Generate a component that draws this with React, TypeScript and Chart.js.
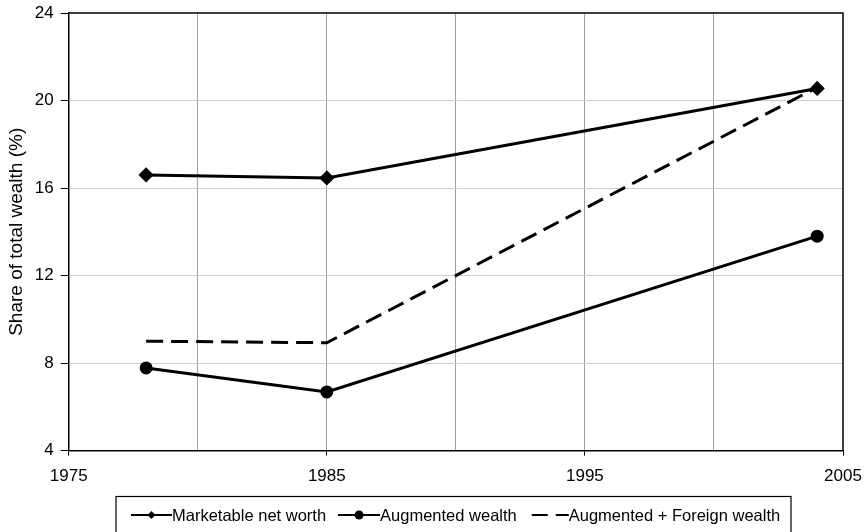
import React, { useEffect, useRef } from "react";
import { Chart, registerables } from "chart.js";

Chart.register(...registerables);

const years = [1978, 1985, 2004];
const marketable = [16.6, 16.46, 20.55];
const augmented = [7.78, 6.68, 13.8];
const augForeign = [9.0, 8.93, 20.6];
const seriesNames = ["Marketable net worth", "Augmented wealth", "Augmented + Foreign wealth"];
const yTitle = "Share of total wealth (%)";

const FONT = "'Liberation Sans', Arial, sans-serif";

const frameAndLegend = {
  id: "frameAndLegend",
  afterDraw(chart: any) {
    const { ctx, chartArea } = chart;
    const { left, right, top, bottom } = chartArea;
    ctx.save();
    ctx.strokeStyle = "#000";
    ctx.lineWidth = 1.5;
    ctx.beginPath();
    ctx.moveTo(left, top);
    ctx.lineTo(right, top);
    ctx.lineTo(right, bottom);
    ctx.stroke();

    // legend box
    ctx.lineWidth = 1.2;
    ctx.strokeRect(116, 496.5, 675, 45);
    ctx.font = `16.5px ${FONT}`;
    ctx.fillStyle = "#000";
    ctx.textBaseline = "middle";
    const cy = 515;
    let x = 131;
    const sampleLens = [41, 42, 37];
    const gaps = [12, 15, 0];
    chart.data.datasets.forEach((ds: any, i: number) => {
      const sampleLen = sampleLens[i];
      ctx.strokeStyle = "#000";
      ctx.lineWidth = 2.2;
      ctx.setLineDash(ds.borderDash ? [16, 8] : []);
      ctx.beginPath();
      ctx.moveTo(x, cy);
      ctx.lineTo(x + sampleLen, cy);
      ctx.stroke();
      ctx.setLineDash([]);
      const mx = x + sampleLen / 2;
      if (ds.pointStyle === "rectRot") {
        ctx.beginPath();
        ctx.moveTo(mx, cy - 4);
        ctx.lineTo(mx + 4, cy);
        ctx.lineTo(mx, cy + 4);
        ctx.lineTo(mx - 4, cy);
        ctx.closePath();
        ctx.fill();
      } else if (ds.pointStyle === "circle" && ds.pointRadius > 0) {
        ctx.beginPath();
        ctx.arc(mx, cy, 4.5, 0, Math.PI * 2);
        ctx.fill();
      }
      x += sampleLen;
      ctx.fillText(ds.label, x, cy + 1);
      x += ctx.measureText(ds.label).width + gaps[i];
    });
    ctx.restore();
  },
};

export default function App() {
  const ref = useRef<HTMLCanvasElement>(null);
  useEffect(() => {
    document.body.style.margin = "0";
    const canvas = ref.current!;
    const chart = new Chart(canvas, {
      type: "line",
      data: {
        datasets: [
          {
            label: seriesNames[0],
            data: years.map((y, i) => ({ x: y, y: marketable[i] })),
            borderColor: "#000",
            backgroundColor: "#000",
            borderWidth: 3,
            pointStyle: "rectRot",
            pointRadius: 5.5,
            pointHoverRadius: 5.5,
          },
          {
            label: seriesNames[1],
            data: years.map((y, i) => ({ x: y, y: augmented[i] })),
            borderColor: "#000",
            backgroundColor: "#000",
            borderWidth: 3,
            pointStyle: "circle",
            pointRadius: 5,
            pointHoverRadius: 5,
          },
          {
            label: seriesNames[2],
            data: years.map((y, i) => ({ x: y, y: augForeign[i] })),
            borderColor: "#000",
            backgroundColor: "#000",
            borderWidth: 3,
            borderDash: [17, 8],
            pointStyle: "circle",
            pointRadius: 0,
            pointHoverRadius: 0,
          },
        ],
      },
      options: {
        animation: false,
        responsive: true,
        maintainAspectRatio: false,
        layout: { autoPadding: false, padding: { left: 3, right: 21, top: 13, bottom: 34 } },
        plugins: {
          legend: { display: false },
          tooltip: { enabled: false },
        },
        scales: {
          x: {
            type: "linear",
            min: 1975,
            max: 2005,
            afterFit: (s: any) => {
              s.paddingLeft = 0;
              s.paddingRight = 0;
            },
            ticks: {
              stepSize: 5,
              color: "#000",
              font: { family: FONT, size: 17 },
              maxRotation: 0,
              autoSkip: false,
              padding: 11,
              callback: (v: any) => (Number(v) % 10 === 5 ? String(v) : ""),
            },
            grid: {
              color: (c: any) => {
                const v = c.tick?.value;
                if (v === 1975 || v === 2005) return "rgba(0,0,0,0)";
                return "#a0a0a0";
              },
              tickColor: (c: any) => (c.tick && c.tick.value % 10 === 5 ? "#000" : "rgba(0,0,0,0)"),
              tickLength: 5,
              lineWidth: 1,
            },
            border: { color: "#000", width: 1.5 },
          },
          y: {
            min: 4,
            max: 24,
            afterFit: (s: any) => {
              s.paddingTop = 0;
              s.paddingBottom = 0;
            },
            ticks: {
              stepSize: 4,
              color: "#000",
              font: { family: FONT, size: 17 },
              padding: 7,
            },
            grid: {
              color: (c: any) => {
                const v = c.tick?.value;
                if (v === 4 || v === 24) return "rgba(0,0,0,0)";
                return "#cfcfcf";
              },
              tickColor: "#000",
              tickLength: 8,
              lineWidth: 1,
            },
            border: { color: "#000", width: 1.5 },
            title: {
              display: true,
              text: yTitle,
              color: "#000",
              font: { family: FONT, size: 19 },
              padding: { top: 2, bottom: 0 },
            },
          },
        },
      },
      plugins: [frameAndLegend],
    });
    return () => chart.destroy();
  }, []);
  return (
    <div style={{ width: 864, height: 532, position: "relative" }}>
      <canvas ref={ref} />
    </div>
  );
}
